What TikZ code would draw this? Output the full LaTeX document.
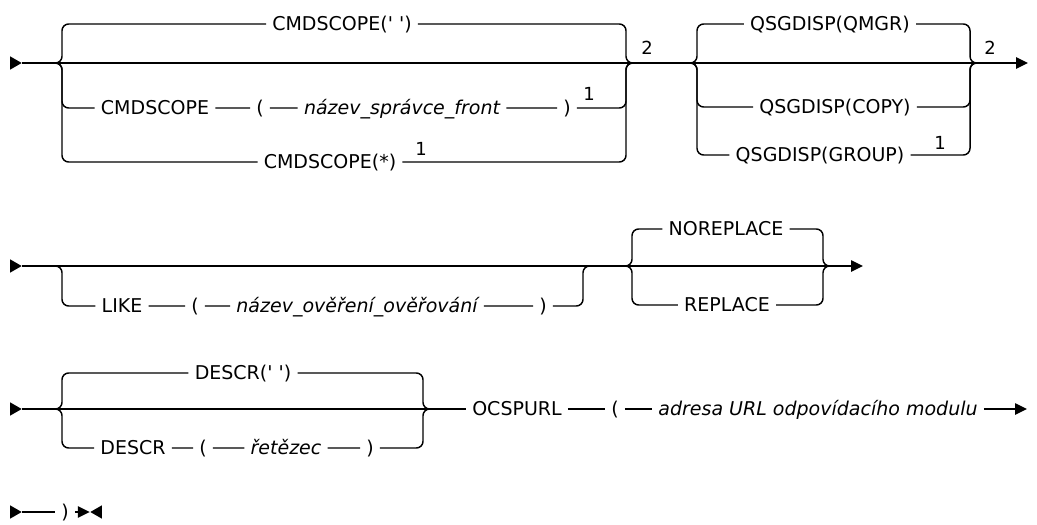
\documentclass[tikz,border=0pt]{standalone}
\usepackage{fontspec}
\setmainfont{DejaVu Sans}
\usepackage{tikz}
\usetikzlibrary{arrows.meta,shapes.geometric}
\tikzset{
  kwnode/.style={inner xsep=4.5pt,inner ysep=0pt,text height=10.4pt,text depth=0pt,font=\fontsize{14.25}{17}\selectfont},
  varnode/.style={kwnode,font=\fontsize{14.25}{17}\selectfont\itshape},
  notenode/.style={inner sep=0pt,text height=9.8pt,text depth=0pt,font=\fontsize{13.5}{16}\selectfont},
  startnode/.style={regular polygon,regular polygon sides=3,shape border rotate=-90,fill=black,inner sep=0pt,minimum size=11.5pt},
  endnode/.style={startnode,shape border rotate=90},
  railline/.style={line width=1.1pt,rounded corners=5pt},
  railarrow/.style={railline,-{Triangle[length=9pt,width=8.5pt]}}
}

\begin{document}
\begin{tikzpicture}[x=0.75pt,y=-0.75pt]
  \useasboundingbox (0,0) rectangle (1037,524);
  % row 1: command scope and disposition
  \node[startnode] (st1) at (14,63) {};
  \coordinate (a1) at (54,63);
  \coordinate (a2) at (634,63);
  \coordinate (b1) at (689,63);
  \coordinate (b2) at (978,63);
  \coordinate (end1) at (1028,63);
  \node[kwnode] (cmdq) at (342,24) {CMDSCOPE(\textquotesingle\ \textquotesingle)};
  \node[kwnode] (cmdkw) at (155,108) {CMDSCOPE};
  \node[kwnode] (lpa) at (260,108) {(};
  \node[varnode] (qmname) at (402,108) {název\_správce\_front};
  \node[kwnode] (rpa) at (567,108) {)};
  \node[notenode] (n1a) at (589,94) {1};
  \node[kwnode] (cmdst) at (330,162) {CMDSCOPE(*)};
  \node[notenode] (n1b) at (421,149) {1};
  \node[notenode] (n2a) at (647,48) {2};
  \node[kwnode] (qmgr) at (830,24) {QSGDISP(QMGR)};
  \node[kwnode] (copy) at (835,107) {QSGDISP(COPY)};
  \node[kwnode] (group) at (820,155) {QSGDISP(GROUP)};
  \node[notenode] (n1c) at (940,143) {1};
  \node[notenode] (n2b) at (990,48) {2};
  \draw[railarrow] (st1) -- (end1);
  \draw[railline] (a1) -| (62,24) -- (cmdq) -| (626,63) -- (a2);
  \draw[railline] (a1) -| (62,108) -- (cmdkw) -- (lpa) -- (qmname) -- (rpa) -| (626,63) -- (a2);
  \draw[railline] (a1) -| (62,162) -- (cmdst) -| (626,63) -- (a2);
  \draw[railline] (b1) -| (697,24) -- (qmgr) -| (970,63) -- (b2);
  \draw[railline] (b1) -| (697,107) -- (copy) -| (970,63) -- (b2);
  \draw[railline] (b1) -| (697,155) -- (group) -| (970,63) -- (b2);
  % row 2: like and replace
  \node[startnode] (st2) at (14,266) {};
  \coordinate (c1) at (54,266);
  \coordinate (c2) at (591,266);
  \coordinate (d1) at (624,266);
  \coordinate (d2) at (831,266);
  \coordinate (end2) at (863,266);
  \node[kwnode] (like) at (122,306) {LIKE};
  \node[kwnode] (lpb) at (195,306) {(};
  \node[varnode] (authname) at (357,306) {název\_ověření\_ověřování};
  \node[kwnode] (rpb) at (543,306) {)};
  \node[kwnode] (norepl) at (726,229) {NOREPLACE};
  \node[kwnode] (repl) at (727,305) {REPLACE};
  \draw[railarrow] (st2) -- (end2);
  \draw[railline] (c1) -| (62,306) -- (like) -- (lpb) -- (authname) -- (rpb) -| (583,266) -- (c2);
  \draw[railline] (d1) -| (632,229) -- (norepl) -| (823,266) -- (d2);
  \draw[railline] (d1) -| (632,305) -- (repl) -| (823,266) -- (d2);
  % row 3: description and url
  \node[startnode] (st3) at (14,409) {};
  \coordinate (e1) at (54,409);
  \coordinate (e2) at (431,409);
  \coordinate (end3) at (1027,409);
  \node[kwnode] (descq) at (243,373) {DESCR(\textquotesingle\ \textquotesingle)};
  \node[kwnode] (desckw) at (133,448) {DESCR};
  \node[kwnode] (lpc) at (203,448) {(};
  \node[varnode] (strname) at (286,448) {řetězec};
  \node[kwnode] (rpc) at (370,448) {)};
  \node[kwnode] (ocsp) at (517,409) {OCSPURL};
  \node[kwnode] (lpd) at (615,409) {(};
  \node[varnode] (urlname) at (818,409) {adresa URL odpovídacího modulu};
  \draw[railline] (st3) -- (ocsp);
  \draw[railline] (e1) -| (62,373) -- (descq) -| (423,409) -- (e2);
  \draw[railline] (e1) -| (62,448) -- (desckw) -- (lpc) -- (strname) -- (rpc) -| (423,409) -- (e2);
  \draw[railline] (ocsp) -- (lpd) -- (urlname);
  \draw[railarrow] (urlname) -- (end3);
  % row 4: closing
  \node[startnode] (st4) at (14,512) {};
  \node[kwnode] (rpd) at (65,512) {)};
  \node[endnode] (endm) at (98,512) {};
  \draw[railline] (st4) -- (rpd);
  \draw[railarrow] (rpd) -- (endm);
\end{tikzpicture}
\end{document}
